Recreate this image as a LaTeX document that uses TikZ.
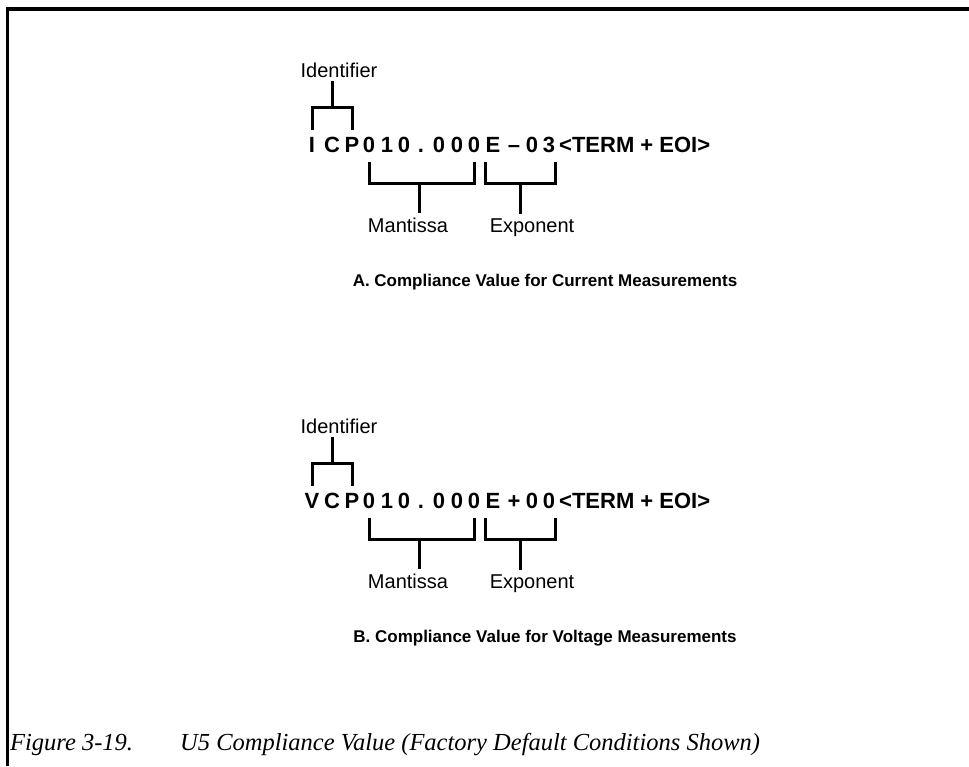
\documentclass[tikz,border=0pt]{standalone}
\usepackage{fontspec}
\setmainfont{Liberation Serif}
\setsansfont{Liberation Sans}
\usetikzlibrary{positioning}
\tikzset{
  digit/.style={font=\sffamily\bfseries\fontsize{22}{22}\selectfont,inner sep=0pt,anchor=base},
  lbl/.style={font=\sffamily\fontsize{20}{24}\selectfont,inner sep=4pt,anchor=base},
  ttl/.style={font=\sffamily\bfseries\fontsize{17}{20}\selectfont,inner sep=0pt},
  brk/.style={line width=3pt},
  figcap/.style={font=\itshape\fontsize{24.5}{30}\selectfont,inner sep=0pt,anchor=base west},
}
\begin{document}
\begin{tikzpicture}[x=1pt,y=-1pt]
\useasboundingbox (0,0) rectangle (969,766);
\draw[line width=3.5pt] (969,9) -- (7.5,9) -- (7.5,766);
\foreach \part/\dy/\lead/\sgn/\eb/\kind in {a/0/I/\textendash/3/Current,b/356/V/+/0/Voltage}{
  \begin{scope}[yshift=-\dy pt]
  \foreach \ch/\xx [count=\i] in {\lead/312,C/332,P/352,0/369,1/387,0/404,./421,0/439,0/457,0/474,E/493,\sgn/514,0/532,\eb/549}
    \node[digit] (\part-\i) at (\xx,152) {\ch};
  \node[digit,anchor=base west] (\part-term) at (559,152) {<TERM + EOI>};
  \node[lbl] (\part-id) at (339,77) {Identifier};
  \node[lbl] (\part-man) at (408,232) {Mantissa};
  \node[lbl] (\part-exp) at (532,232) {Exponent};
  \node[ttl] (\part-ttl) at (545,282) {\MakeUppercase\part. Compliance Value for \kind\ Measurements};
  \coordinate (\part-ib) at (332,107);
  \coordinate (\part-il) at (0,130);
  \coordinate (\part-lt) at (0,162);
  \coordinate (\part-mb) at (419,183);
  \coordinate (\part-eb) at (520,183);
  \draw[brk] (\part-1 |- \part-il) -- (\part-1 |- \part-ib) -- (\part-3 |- \part-ib) -- (\part-3 |- \part-il);
  \draw[brk] (\part-ib) -- (\part-ib |- \part-id.south);
  \draw[brk] (\part-4 |- \part-lt) -- (\part-4 |- \part-mb) -- (\part-10 |- \part-mb) -- (\part-10 |- \part-lt);
  \draw[brk] (\part-mb) -- (\part-mb |- \part-man.north);
  \draw[brk] (\part-11.west |- \part-lt) -- (\part-11.west |- \part-eb) -- (\part-14.east |- \part-eb) -- (\part-14.east |- \part-lt);
  \draw[brk] (\part-eb) -- (\part-eb |- \part-exp.north);
  \end{scope}
}
\node[figcap] (fig) at (10,750) {Figure 3-19.};
\node[figcap] (caption) at (180,750) {U5 Compliance Value (Factory Default Conditions Shown)};
\end{tikzpicture}
\end{document}
